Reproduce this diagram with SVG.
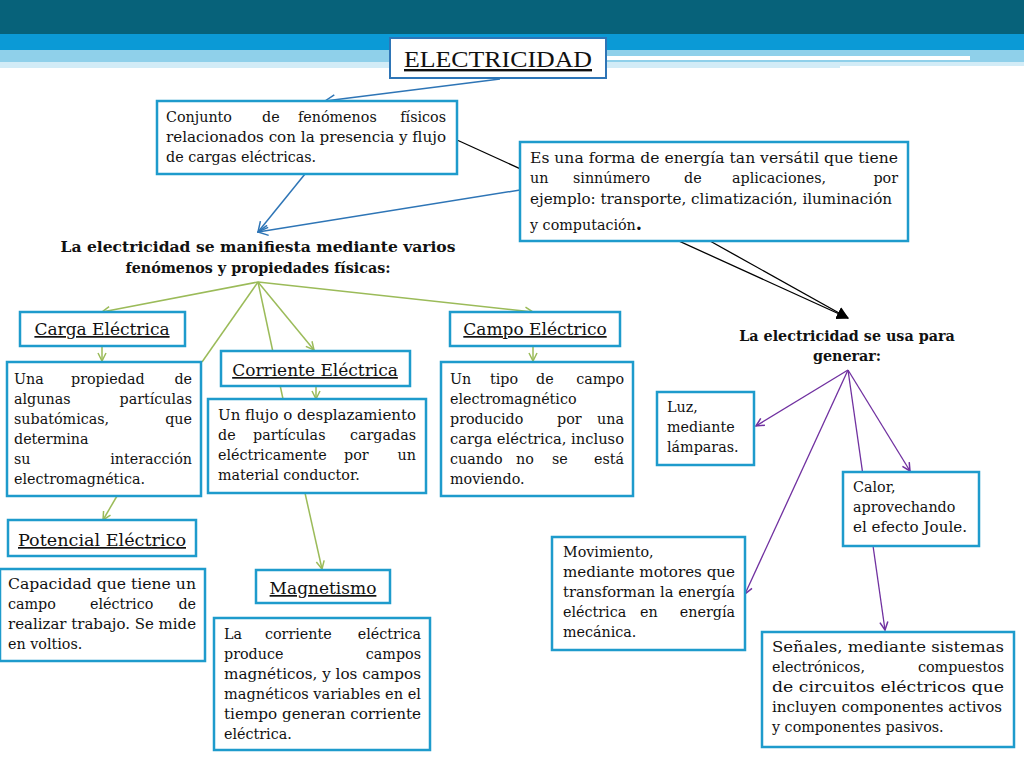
<svg xmlns="http://www.w3.org/2000/svg" width="1024" height="768" viewBox="0 0 1024 768">
<style>
.b{fill:#fff;stroke:#1e9bcc;stroke-width:2.5}
.t{font-family:"DejaVu Serif",serif;font-size:14.3px;fill:#111}
.e{text-anchor:end}
.h{font-family:"DejaVu Serif",serif;font-size:17px;fill:#111;text-decoration:underline;text-anchor:middle}
.bd{font-family:"DejaVu Serif",serif;font-size:14.3px;font-weight:bold;fill:#111;text-anchor:middle}
.g{stroke:#9bbb59;stroke-width:1.5;fill:none}
.p{stroke:#7030a0;stroke-width:1.3;fill:none}
.k{stroke:#000;stroke-width:1.3;fill:none}
.u{stroke:#2e75b6;stroke-width:1.5;fill:none}
</style>
<defs>
<marker id="ag" markerWidth="10" markerHeight="10" refX="9" refY="5" orient="auto" markerUnits="userSpaceOnUse"><path d="M1,1 L9,5 L1,9" fill="none" stroke="#9bbb59" stroke-width="1.5"/></marker>
<marker id="ap" markerWidth="10" markerHeight="10" refX="9" refY="5" orient="auto" markerUnits="userSpaceOnUse"><path d="M1,1 L9,5 L1,9" fill="none" stroke="#7030a0" stroke-width="1.5"/></marker>
<marker id="au" markerWidth="12" markerHeight="12" refX="11" refY="6" orient="auto" markerUnits="userSpaceOnUse"><path d="M1,1 L11,6 L1,11" fill="none" stroke="#2e75b6" stroke-width="1.5"/></marker>
<marker id="ak" markerWidth="12" markerHeight="12" refX="11" refY="6" orient="auto" markerUnits="userSpaceOnUse"><path d="M0,0 L12,6 L0,12 Z" fill="#000"/></marker>
</defs>
<rect width="1024" height="768" fill="#fff"/>
<g id="header">
<rect x="0" y="0" width="1024" height="34" fill="#07627a"/>
<rect x="0" y="34" width="1024" height="16" fill="#0b9ad6"/>
<rect x="0" y="50" width="1024" height="18" fill="#8fd0ea"/>
<rect x="600" y="56" width="370" height="4" fill="#fff"/>
<rect x="0" y="62" width="1024" height="6" fill="#fff" opacity="0.6"/>
<rect x="840" y="66" width="184" height="4" fill="#fff"/>
</g>
<g id="connectors">
<path class="k" d="M457,140 L848,318" marker-end="url(#ak)"/>
<path class="k" d="M710,241 L848,318" marker-end="url(#ak)"/>
<path class="u" d="M500,79 L325,101" marker-end="url(#au)"/>
<path class="u" d="M305,174 L258,232" marker-end="url(#au)"/>
<path class="u" d="M520,190 L258,232" marker-end="url(#au)"/>
<path class="g" d="M258,282 L102,312" marker-end="url(#ag)"/>
<path class="g" d="M258,282 L202,362"/>
<path class="g" d="M258,282 L283,399"/>
<path class="g" d="M258,282 L314,350" marker-end="url(#ag)"/>
<path class="g" d="M258,282 L533,312" marker-end="url(#ag)"/>
<path class="g" d="M102,346 L102,361" marker-end="url(#ag)"/>
<path class="g" d="M117,496 L103,520" marker-end="url(#ag)"/>
<path class="g" d="M316,386 L316,399" marker-end="url(#ag)"/>
<path class="g" d="M305,493 L322,569" marker-end="url(#ag)"/>
<path class="g" d="M533,346 L533,361" marker-end="url(#ag)"/>
<path class="p" d="M848,370 L756,426" marker-end="url(#ap)"/>
<path class="p" d="M848,370 L910,471" marker-end="url(#ap)"/>
<path class="p" d="M848,370 L745,594" marker-end="url(#ap)"/>
<path class="p" d="M848,370 L885,630" marker-end="url(#ap)"/>
</g>
<g id="electricidad"><rect x="390" y="38" width="216" height="40" fill="#fff" stroke="#2e75b6" stroke-width="2"/><text x="498" y="67" font-family="Liberation Serif,serif" font-size="24" fill="#111" text-decoration="underline" text-anchor="middle" textLength="188" lengthAdjust="spacingAndGlyphs">ELECTRICIDAD</text></g>
<g id="def1"><rect class="b" x="157" y="101" width="300" height="73" stroke="#2e75b6"/>
<text class="t"><tspan x="166" y="122">Conjunto</tspan><tspan x="262" y="122">de</tspan><tspan x="298" y="122">fenómenos</tspan><tspan class="e" x="446" y="122">físicos</tspan></text>
<text class="t"><tspan x="166" y="142" textLength="280" lengthAdjust="spacingAndGlyphs">relacionados con la presencia y flujo</tspan><tspan x="166" y="162">de cargas eléctricas.</tspan></text></g>
<g id="def2"><rect class="b" x="520" y="142" width="388" height="99" stroke="#2e75b6"/>
<text class="t"><tspan x="530" y="163" textLength="368" lengthAdjust="spacingAndGlyphs">Es una forma de energía tan versátil que tiene</tspan></text>
<text class="t"><tspan x="530" y="183">un</tspan><tspan x="573" y="183">sinnúmero</tspan><tspan x="684" y="183">de</tspan><tspan x="732" y="183">aplicaciones,</tspan><tspan class="e" x="898" y="183">por</tspan></text>
<text class="t"><tspan x="530" y="204" textLength="362" lengthAdjust="spacingAndGlyphs">ejemplo: transporte, climatización, iluminación</tspan><tspan x="530" y="230">y computación<tspan font-weight="bold" font-size="18">.</tspan></tspan></text></g>
<g id="manifiesta"><text class="bd"><tspan x="258" y="252" textLength="395" lengthAdjust="spacingAndGlyphs">La electricidad se manifiesta mediante varios</tspan><tspan x="258" y="273">fenómenos y propiedades físicas:</tspan></text></g>
<g id="carga"><rect class="b" x="20" y="312" width="165" height="34"/><text class="h" x="102" y="335">Carga Eléctrica</text></g>
<g id="carga-def"><rect class="b" x="7" y="362" width="194" height="134"/>
<text class="t"><tspan x="14" y="384">Una</tspan><tspan x="71" y="384">propiedad</tspan><tspan class="e" x="192" y="384">de</tspan></text>
<text class="t"><tspan x="14" y="404">algunas</tspan><tspan class="e" x="192" y="404">partículas</tspan></text>
<text class="t"><tspan x="14" y="424">subatómicas,</tspan><tspan class="e" x="192" y="424">que</tspan></text>
<text class="t"><tspan x="14" y="444">determina</tspan></text>
<text class="t"><tspan x="14" y="464">su</tspan><tspan class="e" x="192" y="464">interacción</tspan></text>
<text class="t"><tspan x="14" y="484">electromagnética.</tspan></text></g>
<g id="corriente"><rect class="b" x="221" y="351" width="189" height="35"/><text class="h" x="315" y="376">Corriente Eléctrica</text></g>
<g id="corriente-def"><rect class="b" x="208" y="399" width="218" height="94"/>
<text class="t"><tspan x="218" y="420" textLength="198" lengthAdjust="spacingAndGlyphs">Un flujo o desplazamiento</tspan></text>
<text class="t"><tspan x="218" y="440">de</tspan><tspan x="253" y="440">partículas</tspan><tspan class="e" x="416" y="440">cargadas</tspan></text>
<text class="t"><tspan x="218" y="460">eléctricamente</tspan><tspan x="344" y="460">por</tspan><tspan class="e" x="416" y="460">un</tspan></text>
<text class="t"><tspan x="218" y="480">material conductor.</tspan></text></g>
<g id="campo"><rect class="b" x="450" y="312" width="170" height="34"/><text class="h" x="535" y="335">Campo Eléctrico</text></g>
<g id="campo-def"><rect class="b" x="441" y="362" width="192" height="134"/>
<text class="t"><tspan x="450" y="384">Un</tspan><tspan x="490" y="384">tipo</tspan><tspan x="536" y="384">de</tspan><tspan class="e" x="624" y="384">campo</tspan></text>
<text class="t"><tspan x="450" y="404">electromagnético</tspan></text>
<text class="t"><tspan x="450" y="424">producido</tspan><tspan x="557" y="424">por</tspan><tspan class="e" x="624" y="424">una</tspan></text>
<text class="t"><tspan x="450" y="444" textLength="174" lengthAdjust="spacingAndGlyphs">carga eléctrica, incluso</tspan></text>
<text class="t"><tspan x="450" y="464">cuando</tspan><tspan x="516" y="464">no</tspan><tspan x="552" y="464">se</tspan><tspan class="e" x="624" y="464">está</tspan></text>
<text class="t"><tspan x="450" y="484">moviendo.</tspan></text></g>
<g id="potencial"><rect class="b" x="8" y="520" width="188" height="36"/><text class="h" x="102" y="546" textLength="168" lengthAdjust="spacingAndGlyphs">Potencial Eléctrico</text></g>
<g id="potencial-def"><rect class="b" x="0" y="569" width="205" height="92"/>
<text class="t"><tspan x="8" y="589" textLength="188" lengthAdjust="spacingAndGlyphs">Capacidad que tiene un</tspan></text>
<text class="t"><tspan x="8" y="609">campo</tspan><tspan x="90" y="609">eléctrico</tspan><tspan class="e" x="196" y="609">de</tspan></text>
<text class="t"><tspan x="8" y="629" textLength="188" lengthAdjust="spacingAndGlyphs">realizar trabajo. Se mide</tspan><tspan x="8" y="649">en voltios.</tspan></text></g>
<g id="magnetismo"><rect class="b" x="256" y="570" width="134" height="33"/><text class="h" x="323" y="594">Magnetismo</text></g>
<g id="magnetismo-def"><rect class="b" x="214" y="618" width="216" height="132"/>
<text class="t"><tspan x="224" y="639">La</tspan><tspan x="265" y="639">corriente</tspan><tspan class="e" x="421" y="639">eléctrica</tspan></text>
<text class="t"><tspan x="224" y="659">produce</tspan><tspan class="e" x="421" y="659">campos</tspan></text>
<text class="t"><tspan x="224" y="679" textLength="197" lengthAdjust="spacingAndGlyphs">magnéticos, y los campos</tspan><tspan x="224" y="699" textLength="197" lengthAdjust="spacingAndGlyphs">magnéticos variables en el</tspan><tspan x="224" y="719" textLength="197" lengthAdjust="spacingAndGlyphs">tiempo generan corriente</tspan><tspan x="224" y="739">eléctrica.</tspan></text></g>
<g id="usa"><text class="bd"><tspan x="847" y="341">La electricidad se usa para</tspan><tspan x="847" y="361">generar:</tspan></text></g>
<g id="luz"><rect class="b" x="657" y="392" width="97" height="73"/>
<text class="t"><tspan x="667" y="412">Luz,</tspan><tspan x="667" y="432">mediante</tspan><tspan x="667" y="452">lámparas.</tspan></text></g>
<g id="calor"><rect class="b" x="843" y="472" width="136" height="74"/>
<text class="t"><tspan x="853" y="492">Calor,</tspan><tspan x="853" y="512">aprovechando</tspan><tspan x="853" y="532" textLength="114" lengthAdjust="spacingAndGlyphs">el efecto Joule.</tspan></text></g>
<g id="movimiento"><rect class="b" x="552" y="537" width="193" height="113"/>
<text class="t"><tspan x="563" y="557">Movimiento,</tspan><tspan x="563" y="577" textLength="172" lengthAdjust="spacingAndGlyphs">mediante motores que</tspan><tspan x="563" y="597" textLength="172" lengthAdjust="spacingAndGlyphs">transforman la energía</tspan></text>
<text class="t"><tspan x="563" y="617">eléctrica</tspan><tspan x="640" y="617">en</tspan><tspan class="e" x="735" y="617">energía</tspan></text>
<text class="t"><tspan x="563" y="637">mecánica.</tspan></text></g>
<g id="senales"><rect class="b" x="762" y="632" width="252" height="115"/>
<text class="t"><tspan x="772" y="652" textLength="232" lengthAdjust="spacingAndGlyphs">Señales, mediante sistemas</tspan></text>
<text class="t"><tspan x="772" y="672">electrónicos,</tspan><tspan class="e" x="1004" y="672">compuestos</tspan></text>
<text class="t"><tspan x="772" y="692" textLength="232" lengthAdjust="spacingAndGlyphs">de circuitos eléctricos que</tspan><tspan x="772" y="712" textLength="230" lengthAdjust="spacingAndGlyphs">incluyen componentes activos</tspan><tspan x="772" y="732">y componentes pasivos.</tspan></text></g>
</svg>
